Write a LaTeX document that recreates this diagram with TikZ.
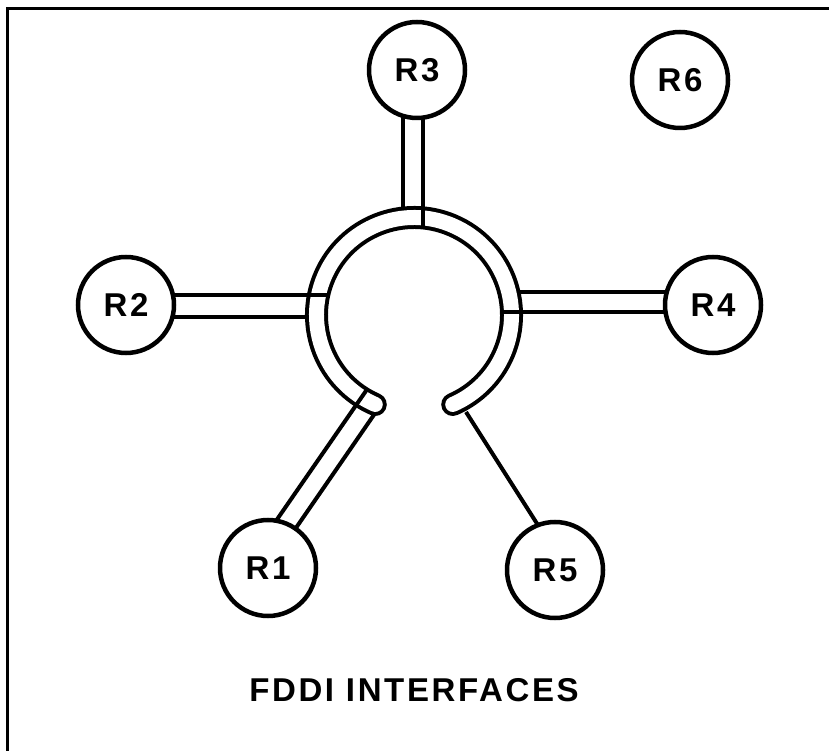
\documentclass[tikz,border=0pt]{standalone}
\usepackage{fontspec}
\setmainfont{Liberation Sans}
\newfontfamily\lblfont[LetterSpace=8]{Liberation Sans}
\usetikzlibrary{calc,backgrounds}
\tikzset{
  router/.style={circle, draw=black, line width=4.5pt, fill=white, inner sep=0pt,
    minimum size=96pt, font=\lblfont\bfseries\fontsize{33}{33}\selectfont},
  wire/.style={draw=black, line width=4pt, line cap=butt},
  frameline/.style={draw=black, line width=3pt},
  ringout/.style={draw=black, line width=23pt, line cap=round},
  ringin/.style={draw=white, line width=15pt, line cap=round},
  caption/.style={font=\lblfont\bfseries\fontsize{33}{33}\selectfont}
}
\begin{document}
\begin{tikzpicture}[x=1pt,y=1pt]
\useasboundingbox (0,0) rectangle (829,750);
% routers
\node[router] (R3) at (417,680) {R3};
\node[router] (R6) at (680,670) {R6};
\node[router] (R2) at (126,445) {R2};
\node[router] (R4) at (713,445) {R4};
\node[router] (R1) at (268,182) {R1};
\node[router] (R5) at (555,180) {R5};
\node[caption] (cap) at (414,60) {FDDI INTERFACES};
% ring points
\coordinate (O) at (414,435);
\coordinate (ringL) at ($(O)+(246.6:97.5)$);
\coordinate (r3a) at (403,541.4);
\coordinate (r3b) at (423,522.5);
\coordinate (r2a) at (307,433);
\coordinate (r2b) at (328.3,455);
\coordinate (r4a) at (518.5,458);
\coordinate (r4b) at (502,438);
\coordinate (r1a) at (367,360.6);
\coordinate (r1b) at (374.3,335.7);
\coordinate (r5a) at (466,338);
\begin{scope}[on background layer]
  \draw[frameline] (7.2,-5) -- (7.2,741.3) -- (835,741.3);
  \draw[ringout] (ringL) arc[start angle=246.6, end angle=-66.6, radius=97.5];
  \draw[ringin] (ringL) arc[start angle=246.6, end angle=-66.6, radius=97.5];
  % R3 stub
  \draw[wire] ($(R3)+(-14,-20)$) -- (r3a);
  \draw[wire] ($(R3)+(6,-20)$) -- (r3b);
  % R2 stub
  \draw[wire] ($(R2)+(24,-12)$) -- (r2a);
  \draw[wire] ($(R2)+(24,10)$) -- (r2b);
  % R4 stub
  \draw[wire] ($(R4)+(-23,13)$) -- (r4a);
  \draw[wire] ($(R4)+(-23,-7)$) -- (r4b);
  % R1 stub
  \draw[wire] ($(R1)+(1.5,37.7)$) -- (r1a);
  \draw[wire] ($(R1)+(21.5,30.7)$) -- (r1b);
  % R5 link
  \draw[wire] (r5a) -- ($(R5)+(-15.2,42)$);
\end{scope}
\end{tikzpicture}
\end{document}
